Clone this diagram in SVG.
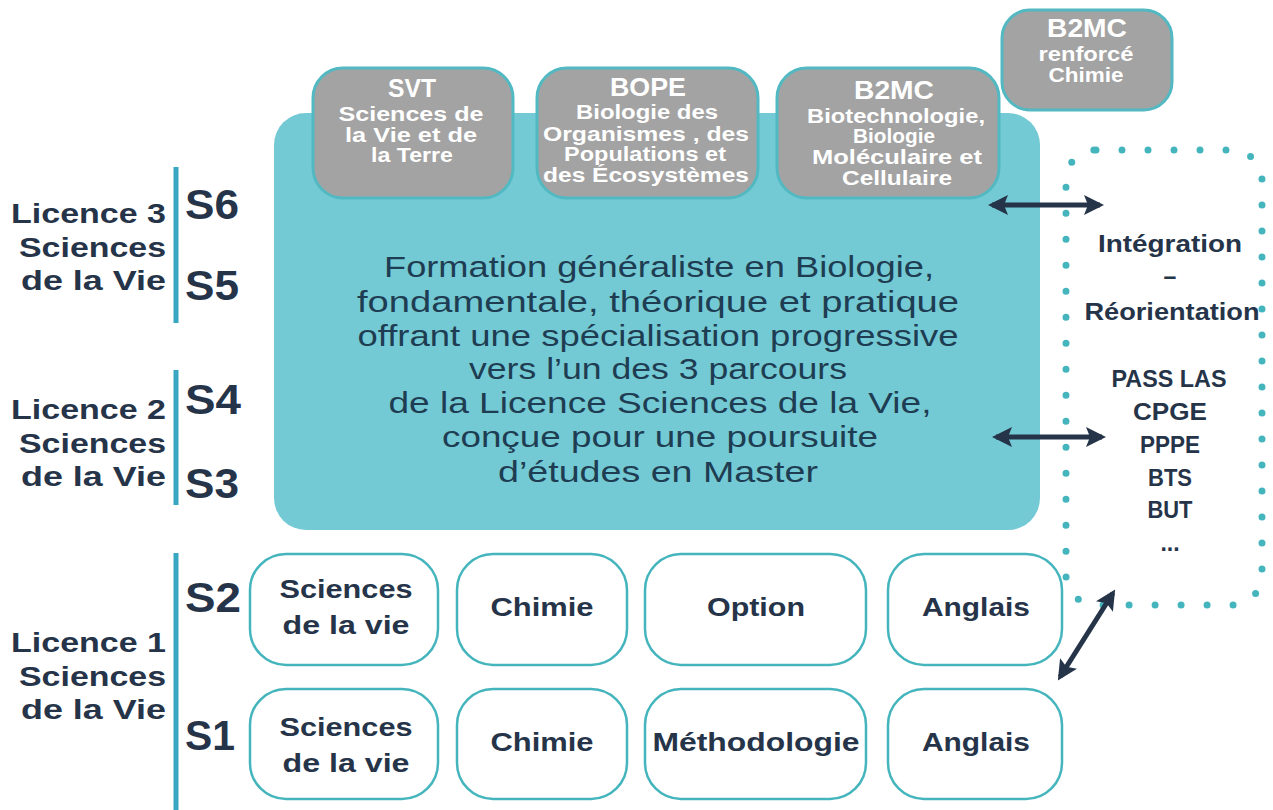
<svg xmlns="http://www.w3.org/2000/svg" width="1273" height="810" viewBox="0 0 1273 810">
<style>
text{font-family:"Liberation Sans",Arial,sans-serif;}
.lbl{font-weight:bold;fill:#263449;font-size:28px;text-anchor:end;}
.sem{font-weight:bold;fill:#263449;font-size:43px;}
.gray{fill:#a3a3a3;stroke:#52b9c2;stroke-width:3;}
.wbox{fill:#ffffff;stroke:#45b5bd;stroke-width:2.5;}
.wt{font-weight:bold;fill:#ffffff;text-anchor:middle;font-size:20px;}
.wh{font-weight:bold;fill:#ffffff;text-anchor:middle;font-size:25px;}
.ct{font-weight:bold;fill:#263449;text-anchor:middle;font-size:26px;}
.main{fill:#1f3d52;text-anchor:middle;font-size:29px;}
.rt{font-weight:bold;fill:#263449;text-anchor:middle;font-size:23px;}
.bar{stroke:#3aa7c2;stroke-width:5;}
.arr{stroke:#253449;stroke-width:5;fill:none;marker-start:url(#ah);marker-end:url(#ah);}
</style>
<defs>
<marker id="ah" viewBox="0 0 10 10" refX="8" refY="5" markerWidth="4" markerHeight="4" orient="auto-start-reverse" markerUnits="strokeWidth">
<path d="M0,0 L10,5 L0,10 L2,5 Z" fill="#253449"/>
</marker>
</defs>
<rect width="1273" height="810" fill="#ffffff"/>

<g id="bars">
<line class="bar" x1="176" y1="167" x2="176" y2="323"/>
<line class="bar" x1="176" y1="370" x2="176" y2="505"/>
<line class="bar" x1="176" y1="553" x2="176" y2="810"/>
</g>

<g id="level-L3">
<text class="lbl" x="166" y="223" textLength="155" lengthAdjust="spacingAndGlyphs">Licence 3</text>
<text class="lbl" x="166" y="257" textLength="147" lengthAdjust="spacingAndGlyphs">Sciences</text>
<text class="lbl" x="166" y="290" textLength="145" lengthAdjust="spacingAndGlyphs">de la Vie</text>
<text class="sem" x="185" y="219" textLength="54" lengthAdjust="spacingAndGlyphs">S6</text>
<text class="sem" x="185" y="300" textLength="54" lengthAdjust="spacingAndGlyphs">S5</text>
</g>
<g id="level-L2">
<text class="lbl" x="166" y="419" textLength="155" lengthAdjust="spacingAndGlyphs">Licence 2</text>
<text class="lbl" x="166" y="453" textLength="147" lengthAdjust="spacingAndGlyphs">Sciences</text>
<text class="lbl" x="166" y="486" textLength="145" lengthAdjust="spacingAndGlyphs">de la Vie</text>
<text class="sem" x="185" y="414" textLength="56" lengthAdjust="spacingAndGlyphs">S4</text>
<text class="sem" x="185" y="498" textLength="54" lengthAdjust="spacingAndGlyphs">S3</text>
</g>
<g id="level-L1">
<text class="lbl" x="166" y="652" textLength="155" lengthAdjust="spacingAndGlyphs">Licence 1</text>
<text class="lbl" x="166" y="686" textLength="147" lengthAdjust="spacingAndGlyphs">Sciences</text>
<text class="lbl" x="166" y="719" textLength="145" lengthAdjust="spacingAndGlyphs">de la Vie</text>
<text class="sem" x="185" y="612" textLength="56" lengthAdjust="spacingAndGlyphs">S2</text>
<text class="sem" x="185" y="750" textLength="50" lengthAdjust="spacingAndGlyphs">S1</text>
</g>

<g id="main">
<rect x="274" y="113" width="766" height="417" rx="32" fill="#73cad4"/>
<text class="main" x="659" y="277" textLength="550" lengthAdjust="spacingAndGlyphs">Formation généraliste en Biologie,</text>
<text class="main" x="658" y="312" textLength="602" lengthAdjust="spacingAndGlyphs">fondamentale, théorique et pratique</text>
<text class="main" x="658" y="346" textLength="601" lengthAdjust="spacingAndGlyphs">offrant une spécialisation progressive</text>
<text class="main" x="658" y="379" textLength="378" lengthAdjust="spacingAndGlyphs">vers l’un des 3 parcours</text>
<text class="main" x="660" y="413" textLength="543" lengthAdjust="spacingAndGlyphs">de la Licence Sciences de la Vie,</text>
<text class="main" x="660" y="447" textLength="436" lengthAdjust="spacingAndGlyphs">conçue pour une poursuite</text>
<text class="main" x="658" y="482" textLength="320" lengthAdjust="spacingAndGlyphs">d’études en Master</text>
</g>

<g id="svt">
<rect class="gray" x="313" y="68" width="200" height="130" rx="30"/>
<text class="wh" x="412" y="97" textLength="48" lengthAdjust="spacingAndGlyphs">SVT</text>
<text class="wt" x="411" y="121" textLength="145" lengthAdjust="spacingAndGlyphs">Sciences de</text>
<text class="wt" x="411" y="142" textLength="132" lengthAdjust="spacingAndGlyphs">la Vie et de</text>
<text class="wt" x="412" y="162" textLength="82" lengthAdjust="spacingAndGlyphs">la Terre</text>
</g>
<g id="bope">
<rect class="gray" x="537" y="68" width="221" height="130" rx="30"/>
<text class="wh" x="648" y="96" font-size="27" textLength="76" lengthAdjust="spacingAndGlyphs">BOPE</text>
<text class="wt" x="647" y="119" textLength="142" lengthAdjust="spacingAndGlyphs">Biologie des</text>
<text class="wt" x="646" y="141" textLength="206" lengthAdjust="spacingAndGlyphs">Organismes , des</text>
<text class="wt" x="645" y="161" textLength="162" lengthAdjust="spacingAndGlyphs">Populations et</text>
<text class="wt" x="646" y="182" textLength="206" lengthAdjust="spacingAndGlyphs">des Écosystèmes</text>
</g>
<g id="b2mc">
<rect class="gray" x="777" y="68" width="222" height="130" rx="30"/>
<text class="wh" x="894" y="99" font-size="27" textLength="80" lengthAdjust="spacingAndGlyphs">B2MC</text>
<text class="wt" x="896" y="123" textLength="178" lengthAdjust="spacingAndGlyphs">Biotechnologie,</text>
<text class="wt" x="894" y="143" textLength="82" lengthAdjust="spacingAndGlyphs">Biologie</text>
<text class="wt" x="897" y="164" textLength="170" lengthAdjust="spacingAndGlyphs">Moléculaire et</text>
<text class="wt" x="897" y="185" textLength="110" lengthAdjust="spacingAndGlyphs">Cellulaire</text>
</g>
<g id="b2mc-chimie">
<rect class="gray" x="1002" y="10" width="170" height="100" rx="28"/>
<text class="wh" x="1087" y="37" font-size="27" textLength="80" lengthAdjust="spacingAndGlyphs">B2MC</text>
<text class="wt" x="1086" y="61" textLength="95" lengthAdjust="spacingAndGlyphs">renforcé</text>
<text class="wt" x="1086" y="82" textLength="75" lengthAdjust="spacingAndGlyphs">Chimie</text>
</g>

<g id="reorientation">
<rect x="1066" y="150" width="196" height="455" rx="30" fill="none" stroke="#45b5bd" stroke-width="7" stroke-linecap="round" stroke-dasharray="0 26"/>
<text class="rt" x="1170" y="252" textLength="144" lengthAdjust="spacingAndGlyphs">Intégration</text>
<text class="rt" x="1170" y="284">–</text>
<text class="rt" x="1172" y="320" textLength="175" lengthAdjust="spacingAndGlyphs">Réorientation</text>
<text class="rt" x="1169" y="387" textLength="115" lengthAdjust="spacingAndGlyphs">PASS LAS</text>
<text class="rt" x="1170" y="420" textLength="74" lengthAdjust="spacingAndGlyphs">CPGE</text>
<text class="rt" x="1170" y="453" textLength="60" lengthAdjust="spacingAndGlyphs">PPPE</text>
<text class="rt" x="1170" y="486" textLength="44" lengthAdjust="spacingAndGlyphs">BTS</text>
<text class="rt" x="1170" y="518" textLength="45" lengthAdjust="spacingAndGlyphs">BUT</text>
<text class="rt" x="1170" y="551">...</text>
</g>

<g id="s2-sv"><rect class="wbox" x="250" y="554" width="188" height="111" rx="36"/><text class="ct" x="346" y="598" textLength="133" lengthAdjust="spacingAndGlyphs">Sciences</text><text class="ct" x="346" y="634" textLength="127" lengthAdjust="spacingAndGlyphs">de la vie</text></g>
<g id="s2-chimie"><rect class="wbox" x="457" y="554" width="170" height="111" rx="36"/><text class="ct" x="542" y="616" textLength="103" lengthAdjust="spacingAndGlyphs">Chimie</text></g>
<g id="s2-option"><rect class="wbox" x="645" y="554" width="221" height="111" rx="36"/><text class="ct" x="756" y="616" textLength="98" lengthAdjust="spacingAndGlyphs">Option</text></g>
<g id="s2-anglais"><rect class="wbox" x="888" y="554" width="174" height="111" rx="36"/><text class="ct" x="976" y="616" textLength="108" lengthAdjust="spacingAndGlyphs">Anglais</text></g>

<g id="s1-sv"><rect class="wbox" x="250" y="689" width="188" height="110" rx="36"/><text class="ct" x="346" y="736" textLength="133" lengthAdjust="spacingAndGlyphs">Sciences</text><text class="ct" x="346" y="772" textLength="127" lengthAdjust="spacingAndGlyphs">de la vie</text></g>
<g id="s1-chimie"><rect class="wbox" x="457" y="689" width="170" height="110" rx="36"/><text class="ct" x="542" y="751" textLength="103" lengthAdjust="spacingAndGlyphs">Chimie</text></g>
<g id="s1-methodo"><rect class="wbox" x="645" y="689" width="221" height="110" rx="36"/><text class="ct" x="756" y="751" textLength="207" lengthAdjust="spacingAndGlyphs">Méthodologie</text></g>
<g id="s1-anglais"><rect class="wbox" x="888" y="689" width="174" height="110" rx="36"/><text class="ct" x="976" y="751" textLength="108" lengthAdjust="spacingAndGlyphs">Anglais</text></g>

<g id="connectors">
<line class="arr" x1="992" y1="205" x2="1100" y2="205"/>
<line class="arr" x1="996" y1="437" x2="1102" y2="437"/>
<line class="arr" x1="1060" y1="677" x2="1113" y2="593"/>
</g>
</svg>
